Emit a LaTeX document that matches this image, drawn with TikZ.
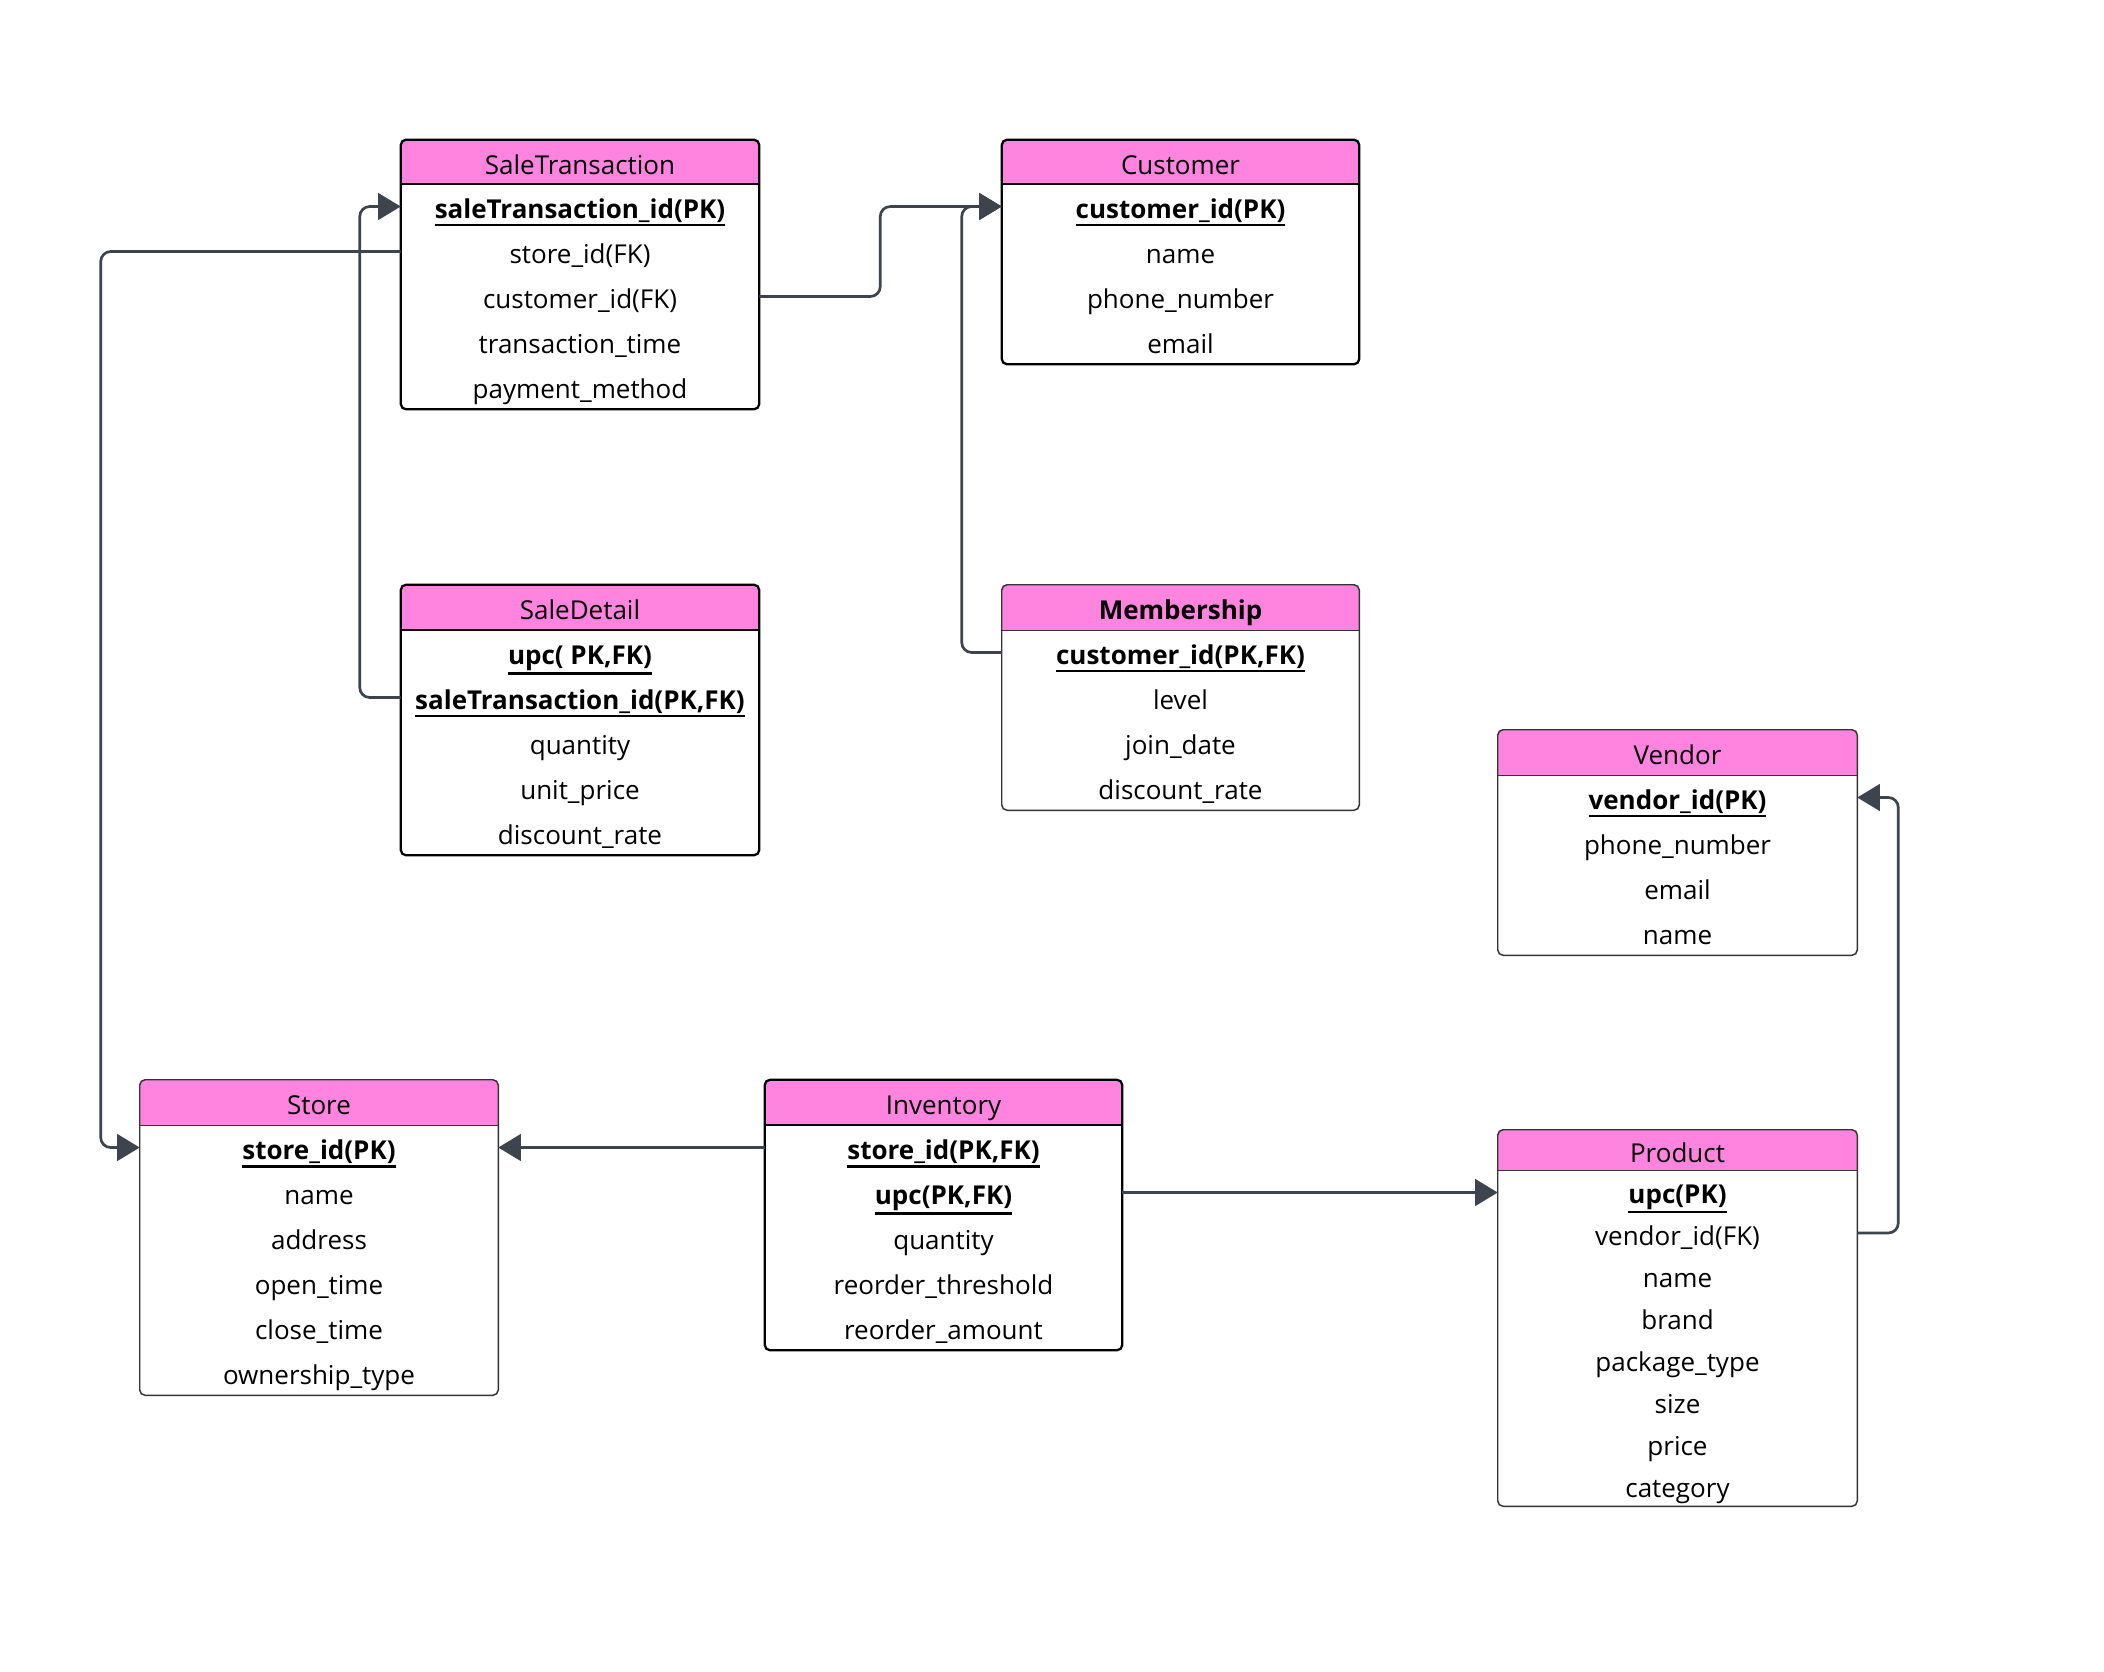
\documentclass[tikz,border=0pt]{standalone}
\usepackage{fontspec}
\setmainfont{Open Sans}
\usetikzlibrary{arrows.meta}

\definecolor{hdrpink}{HTML}{FF84DF}
\definecolor{linkgray}{HTML}{3E444D}

\pgfdeclarelayer{bg}
\pgfsetlayers{bg,main}

% bold, underlined key attribute
\newsavebox\pkbox
\newcommand\pk[1]{\sbox\pkbox{\bfseries #1}%
  \rlap{\rule[\dimexpr-\dp\pkbox-2.6pt\relax]{\wd\pkbox}{1.8pt}}\usebox\pkbox}

% \ertable[frame style]{key}{left}{top}{width}{header height}{row pitch}{title}{rows}
\newcommand\ertable[9][frame thick]{%
  \node[cell, minimum width=#5*0.75pt, minimum height=#6*0.75pt]
    (#2-h) at ({#3+#5/2},{#4+#6/2}) {#8};
  \foreach \r [count=\i] in {#9} {%
    \node[cell, minimum width=#5*0.75pt, minimum height=#7*0.75pt]
      (#2-\i) at ({#3+#5/2},{#4+#6+(\i-0.5)*#7}) {\r};
    \xdef\lastrow{\i}%
  }
  \begin{pgfonlayer}{bg}
    \fill[white, rounded corners=4pt] (#2-h.north west) rectangle (#2-\lastrow.south east);
    \fill[hdrpink, rounded corners=4pt] (#2-h.north west) rectangle (#2-h.south east);
    \fill[hdrpink] (#2-h.west) rectangle (#2-h.south east);
  \end{pgfonlayer}
  \draw[#1] (#2-h.south west) -- (#2-h.south east);
  \draw[#1, rounded corners=4pt] (#2-h.north west) rectangle (#2-\lastrow.south east);
}

\begin{document}
\begin{tikzpicture}[x=0.75pt, y=-0.75pt,
  every node/.style={font=\fontsize{19.5}{22}\selectfont},
  cell/.style={inner sep=0pt, text height=18.6pt, text depth=0pt, align=center},
  frame thick/.style={draw=black, line width=1.7pt},
  frame thin/.style={draw=black!80, line width=1.1pt},
  link/.style={draw=linkgray, line width=2pt, rounded corners=7.5pt,
    -{Triangle[length=17pt,width=20pt]}},
]
\begin{pgfonlayer}{bg}
  \path[use as bounding box, fill=white] (0,0) rectangle (2104,1671);
\end{pgfonlayer}

% tables
\ertable{st}{401}{140}{358}{44}{45}{SaleTransaction}
  {\pk{saleTransaction\_id(PK)}, store\_id(FK), customer\_id(FK), transaction\_time, payment\_method}
\ertable{cu}{1002}{140}{357}{44}{45}{Customer}
  {\pk{customer\_id(PK)}, name, phone\_number, email}
\ertable{sd}{401}{585}{358}{45}{45}{SaleDetail}
  {{\pk{upc( PK,FK)}}, {\pk{saleTransaction\_id(PK,FK)}}, quantity, unit\_price, discount\_rate}
\ertable[frame thin]{me}{1002}{585}{357}{45}{45}{\textbf{Membership}}
  {{\pk{customer\_id(PK,FK)}}, level, join\_date, discount\_rate}
\ertable[frame thin]{ve}{1498}{730}{359}{45}{45}{Vendor}
  {\pk{vendor\_id(PK)}, phone\_number, email, name}
\ertable[frame thin]{so}{140}{1080}{358}{45}{45}{Store}
  {\pk{store\_id(PK)}, name, address, open\_time, close\_time, ownership\_type}
\ertable{in}{765}{1080}{357}{45}{45}{Inventory}
  {{\pk{store\_id(PK,FK)}}, {\pk{upc(PK,FK)}}, quantity, reorder\_threshold, reorder\_amount}
\ertable[frame thin]{pr}{1498}{1130}{359}{40}{42}{Product}
  {\pk{upc(PK)}, vendor\_id(FK), name, brand, package\_type, size, price, category}

% relationships
\draw[link] (st-2.west) -- ++(-300,0) |- (so-1.west);
\draw[link] (sd-2.west) -- ++(-41,0) |- (st-1.west);
\draw[link] (st-3.east) -- ++(121,0) |- (cu-1.west);
\draw[link] (me-1.west) -- ++(-40,0) |- (cu-1.west);
\draw[link] (in-1.west) -- (so-1.east);
\draw[link] (in-2.east) -- (in-2.east -| pr-1.west);
\draw[link] (pr-2.east) -- ++(41,0) |- (ve-1.east);
\end{tikzpicture}
\end{document}
